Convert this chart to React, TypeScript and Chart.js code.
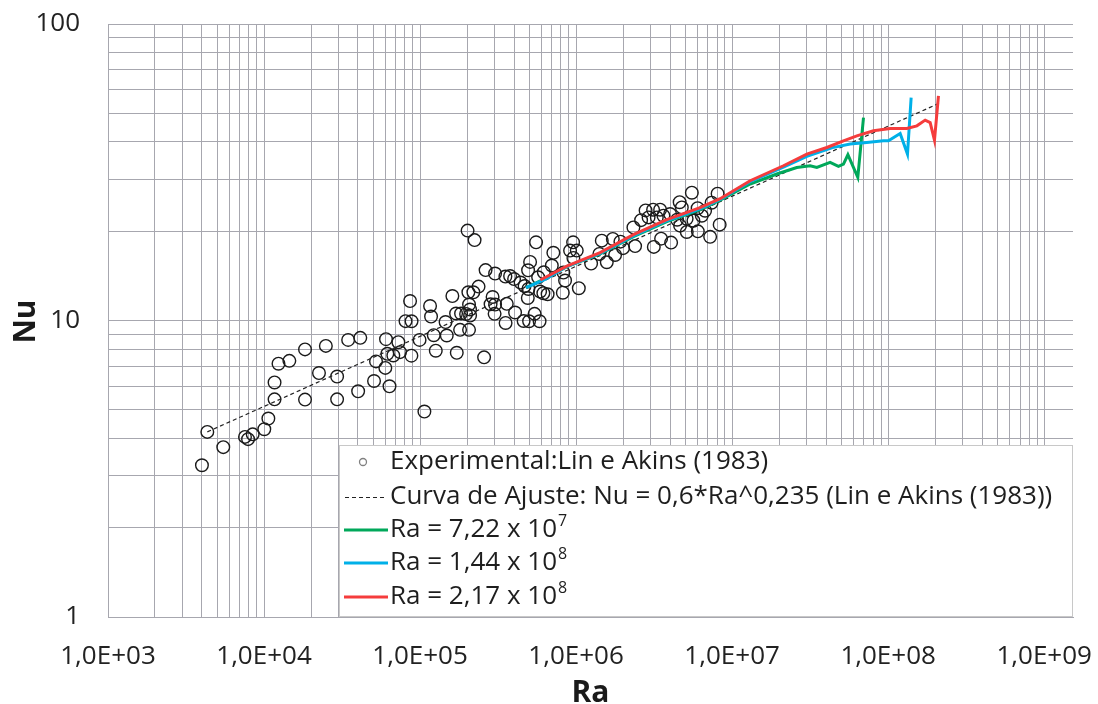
import React, { useEffect, useRef } from 'react';
import { Chart, registerables } from 'chart.js';

Chart.register(...registerables);

const W = 1098;
const H = 704;
const FONT = '"Open Sans", Lato, sans-serif';

// ---------- data ----------
const expRa = [
  4.0e3, 4.33e3, 5.48e3, 7.55e3, 7.9e3, 8.46e3, 1.004e4, 1.066e4, 1.168e4, 1.168e4,
  1.238e4, 1.453e4, 1.831e4, 1.831e4, 2.25e4, 2.49e4, 2.94e4, 2.94e4, 3.46e4, 4.01e4,
  4.14e4, 5.07e4, 5.22e4, 5.99e4, 6.05e4, 6.17e4, 6.37e4, 6.74e4, 7.26e4, 7.44e4,
  8.8e4, 8.63e4, 8.07e4, 8.82e4, 9.93e4, 1.066e5, 1.159e5, 1.176e5, 1.261e5, 1.224e5,
  1.457e5, 1.483e5, 1.611e5, 1.719e5, 1.701e5, 1.831e5, 1.972e5, 2.092e5, 1.805e5, 2.06e5,
  2.016e5, 2.236e5, 2.04e5, 2.196e5, 2.371e5, 2.06e5, 2.092e5, 2.572e5, 2.63e5, 3.026e5,
  3.523e5, 3.775e5, 4.005e5, 4.408e5, 4.677e5, 4.946e5, 4.903e5, 2.916e5, 2.831e5, 3.026e5,
  3.004e5, 3.596e5, 3.533e5, 4.064e5, 4.61e5, 4.997e5, 5.42e5, 5.834e5, 5.072e5, 4.924e5,
  5.54e5, 7.15e5, 9.57e5, 9.15e5, 1.01e6, 9.61e5, 6.99e5, 6.21e5, 5.71e5, 5.88e5,
  6.17e5, 6.57e5, 8.29e5, 8.5e5, 8.22e5, 1.041e6, 1.248e6, 1.461e6, 1.719e6, 1.573e6,
  1.778e6, 1.923e6, 2.001e6, 2.33e6, 2.389e6, 2.61e6, 2.789e6, 3.115e6, 3.455e6, 2.915e6,
  3.291e6, 3.628e6, 3.148e6, 3.506e6, 4.064e6, 4.61e6, 4.76e6, 5.52e6, 4.005e6, 4.441e6,
  5.11e6, 5.65e6, 6.39e6, 6.01e6, 4.64e6, 5.12e6, 6.03e6, 7.23e6, 8.07e6, 7.39e6,
  8.32e6, 1.41e6, 6.71e6,
];
const expNu = [
  3.25, 4.21, 3.74, 4.05, 3.98, 4.13, 4.30, 4.67, 5.42, 6.18,
  7.15, 7.31, 7.99, 5.41, 6.65, 8.21, 6.47, 5.42, 8.60, 5.77,
  8.74, 6.25, 7.28, 6.92, 8.65, 7.72, 6.00, 7.62, 8.45, 7.82,
  7.61, 11.63, 9.95, 9.94, 8.60, 4.93, 11.19, 10.31, 7.91, 8.92,
  9.88, 8.90, 12.09, 7.78, 10.56, 10.56, 10.52, 10.39, 9.30, 9.30,
  20.1, 18.67, 12.45, 12.45, 13.01, 11.32, 10.89, 7.51, 14.79, 14.40,
  14.07, 14.12, 13.80, 13.43, 13.07, 12.77, 11.91, 12.00, 11.34, 11.32,
  10.53, 11.38, 9.81, 10.64, 9.96, 9.94, 10.53, 9.94, 15.76, 14.77,
  18.35, 16.92, 18.35, 17.21, 17.21, 16.26, 15.32, 14.54, 13.99, 12.52,
  12.36, 12.26, 14.51, 13.64, 12.41, 12.85, 15.56, 18.59, 18.84, 15.72,
  16.64, 18.45, 17.54, 20.61, 17.82, 21.80, 23.51, 23.64, 23.64, 22.27,
  22.27, 22.57, 17.71, 18.88, 18.31, 25.06, 24.07, 26.98, 22.87, 21.88,
  22.05, 21.71, 22.57, 23.92, 20.89, 19.89, 19.98, 19.15, 26.77, 24.96,
  21.05, 16.77, 23.46,
];

const fitRa = [4.33e3, 2.15e8];
const fitNu = [4.21, 54.2];

const greenRa = [4.78e5, 6.33e5, 8.72e5, 1.425e6, 2.33e6, 3.815e6, 6.23e6, 8.38e6, 1.305e7, 1.934e7, 2.598e7, 3.162e7, 3.491e7, 4.247e7, 4.802e7, 5.17e7, 5.52e7, 6.39e7, 6.95e7];
const greenNu = [12.91, 13.85, 15.2, 16.77, 19.18, 21.54, 23.64, 25.45, 28.86, 31.19, 32.82, 33.26, 32.82, 34.12, 33.08, 33.7, 36.23, 30.37, 48.36];

const blueRa = [4.78e5, 6.33e5, 8.72e5, 1.425e6, 2.33e6, 3.815e6, 6.23e6, 8.38e6, 1.305e7, 2.132e7, 3.011e7, 4.4e7, 5.71e7, 7.3e7, 9.33e7, 1.004e8, 1.194e8, 1.33e8, 1.404e8];
const blueNu = [12.91, 13.75, 15.2, 16.85, 19.3, 21.7, 23.8, 25.6, 29.4, 32.9, 35.8, 38.3, 39.35, 39.84, 40.37, 40.37, 42.72, 36.42, 56.47];

const redRa = [5.9e5, 8.72e5, 1.425e6, 2.33e6, 3.815e6, 6.23e6, 8.38e6, 1.305e7, 2.132e7, 3.011e7, 4.046e7, 5.17e7, 6.3e7, 8.05e7, 1.03e8, 1.318e8, 1.528e8, 1.727e8, 1.859e8, 1.981e8, 2.101e8];
const redNu = [13.7, 15.26, 16.94, 19.48, 21.88, 24.02, 25.75, 29.61, 33.26, 36.42, 38.32, 40.37, 41.97, 43.62, 44.41, 44.41, 45.35, 47.4, 46.52, 40.59, 57.22];

const xTickLabels = ['1,0E+03', '1,0E+04', '1,0E+05', '1,0E+06', '1,0E+07', '1,0E+08', '1,0E+09'];
const yTickLabels = ['1', '10', '100'];

const legendLabels = [
  'Experimental:Lin e Akins (1983)',
  'Curva de Ajuste: Nu = 0,6*Ra^0,235 (Lin e Akins (1983))',
  'Ra = 7,22 x 10⁷',
  'Ra = 1,44 x 10⁸',
  'Ra = 2,17 x 10⁸',
];
const xTitle = 'Ra';
const yTitle = 'Nu';

const GREEN = '#00A85A';
const BLUE = '#00B0E8';
const RED = '#F53C3C';
const GRID = '#A7A7AF';

const SUP = '⁰¹²³⁴⁵⁶⁷⁸⁹';

function isDecade(v: number) {
  const l = Math.log10(v);
  return Math.abs(l - Math.round(l)) < 1e-9;
}

export default function App() {
  const ref = useRef<HTMLCanvasElement>(null);

  useEffect(() => {
    const canvas = ref.current;
    if (!canvas) return;
    const pts = (xs: number[], ys: number[]) => xs.map((x, i) => ({ x, y: ys[i] }));

    const xTicks: number[] = [];
    for (let k = 3; k <= 8; k++) for (let m = 1; m <= 9; m++) xTicks.push(m * Math.pow(10, k));
    xTicks.push(1e9);
    const yTicks: number[] = [];
    for (let k = 0; k <= 1; k++) for (let m = 1; m <= 9; m++) yTicks.push(m * Math.pow(10, k));
    yTicks.push(100);

    const overlay = {
      id: 'overlay',
      afterDraw(chart: any) {
        const ctx = chart.ctx as CanvasRenderingContext2D;
        const area = chart.chartArea;
        ctx.save();
        // axis titles
        ctx.fillStyle = '#1a1a1a';
        ctx.font = `bold 30px ${FONT}`;
        ctx.textAlign = 'center';
        ctx.textBaseline = 'alphabetic';
        ctx.fillText(xTitle, (area.left + area.right) / 2, 702);
        ctx.save();
        ctx.translate(35, (area.top + area.bottom) / 2 + 1);
        ctx.rotate(-Math.PI / 2);
        ctx.fillText(yTitle, 0, 0);
        ctx.restore();

        // legend box
        const lx = 339, ly = 445, lw = 733, lh = 171;
        ctx.fillStyle = '#ffffff';
        ctx.fillRect(lx, ly, lw, lh);
        ctx.strokeStyle = '#C8C8C8';
        ctx.lineWidth = 1;
        ctx.strokeRect(lx + 0.5, ly + 0.5, lw, lh);

        const rows = [462, 497, 530, 563, 597];
        const tx = 390;
        // markers
        ctx.strokeStyle = '#808080';
        ctx.lineWidth = 1.3;
        ctx.beginPath();
        ctx.arc(363, rows[0], 3.5, 0, Math.PI * 2);
        ctx.stroke();

        ctx.strokeStyle = '#222';
        ctx.lineWidth = 1;
        ctx.setLineDash([4, 3]);
        ctx.beginPath();
        ctx.moveTo(345, rows[1] + 0.5);
        ctx.lineTo(387, rows[1] + 0.5);
        ctx.stroke();
        ctx.setLineDash([]);

        const cols = [GREEN, BLUE, RED];
        cols.forEach((c, i) => {
          ctx.strokeStyle = c;
          ctx.lineWidth = 3;
          ctx.beginPath();
          ctx.moveTo(344, rows[i + 2]);
          ctx.lineTo(388, rows[i + 2]);
          ctx.stroke();
        });

        // legend texts
        ctx.fillStyle = '#1e1e1e';
        ctx.textAlign = 'left';
        ctx.textBaseline = 'middle';
        legendLabels.forEach((label, i) => {
          let base = label;
          let sup = '';
          while (base.length && SUP.indexOf(base[base.length - 1]) >= 0) {
            sup = String(SUP.indexOf(base[base.length - 1])) + sup;
            base = base.slice(0, -1);
          }
          ctx.font = `26px ${FONT}`;
          ctx.fillText(base, tx, rows[i]);
          if (sup) {
            const w = ctx.measureText(base).width;
            ctx.font = `16px ${FONT}`;
            ctx.fillText(sup, tx + w + 1, rows[i] - 9);
          }
        });
        ctx.restore();
      },
    };

    const chart = new Chart(canvas, {
      type: 'scatter',
      data: {
        datasets: [
          {
            label: legendLabels[4],
            data: pts(redRa, redNu),
            showLine: true,
            borderColor: RED,
            backgroundColor: RED,
            borderWidth: 3,
            pointRadius: 0,
            order: 0,
          },
          {
            label: legendLabels[3],
            data: pts(blueRa, blueNu),
            showLine: true,
            borderColor: BLUE,
            backgroundColor: BLUE,
            borderWidth: 3,
            pointRadius: 0,
            order: 1,
          },
          {
            label: legendLabels[2],
            data: pts(greenRa, greenNu),
            showLine: true,
            borderColor: GREEN,
            backgroundColor: GREEN,
            borderWidth: 3,
            pointRadius: 0,
            order: 2,
          },
          {
            label: legendLabels[1],
            data: pts(fitRa, fitNu),
            showLine: true,
            borderColor: '#222',
            borderWidth: 1.2,
            borderDash: [4, 3],
            pointRadius: 0,
            order: 3,
          },
          {
            label: legendLabels[0],
            data: pts(expRa, expNu),
            showLine: false,
            pointRadius: 6.3,
            pointBorderWidth: 1.4,
            pointBorderColor: '#1a1a1a',
            pointBackgroundColor: 'rgba(0,0,0,0)',
            borderColor: '#1a1a1a',
            backgroundColor: 'rgba(0,0,0,0)',
            order: 4,
          },
        ],
      },
      options: {
        responsive: false,
        animation: false,
        devicePixelRatio: 1,
        layout: { padding: { left: 0, top: 24, right: 25, bottom: 0 } },
        plugins: {
          legend: { display: false },
          tooltip: { enabled: false },
          title: { display: false },
        },
        scales: {
          x: {
            type: 'logarithmic',
            min: 1e3,
            max: 1.53e9,
            afterBuildTicks: (scale: any) => {
              scale.ticks = xTicks.map((v) => ({ value: v }));
            },
            afterFit: (scale: any) => {
              scale.height = H - 617;
              scale.paddingLeft = 0;
              scale.paddingRight = 0;
            },
            grid: { color: GRID, lineWidth: 1, drawTicks: false, tickLength: 0 },
            border: { display: true, color: GRID },
            ticks: {
              autoSkip: false,
              maxRotation: 0,
              minRotation: 0,
              padding: 24,
              color: '#222',
              font: { family: FONT, size: 26 },
              callback: (v: any) => {
                const n = Number(v);
                if (!isDecade(n)) return '';
                return xTickLabels[Math.round(Math.log10(n)) - 3] ?? '';
              },
            },
          },
          y: {
            type: 'logarithmic',
            min: 1,
            max: 100,
            afterBuildTicks: (scale: any) => {
              scale.ticks = yTicks.map((v) => ({ value: v }));
            },
            afterFit: (scale: any) => {
              scale.width = 108;
              scale.paddingTop = 0;
              scale.paddingBottom = 0;
            },
            grid: { color: GRID, lineWidth: 1, drawTicks: false, tickLength: 0 },
            border: { display: true, color: GRID },
            ticks: {
              autoSkip: false,
              padding: 28,
              color: '#222',
              font: { family: FONT, size: 26 },
              callback: (v: any) => {
                const n = Number(v);
                if (!isDecade(n)) return '';
                return yTickLabels[Math.round(Math.log10(n))] ?? '';
              },
            },
          },
        },
      },
      plugins: [overlay],
    } as any);

    return () => chart.destroy();
  }, []);

  return (
    <div style={{ position: 'fixed', left: 0, top: 0, width: W, height: H, background: '#fff' }}>
      <canvas ref={ref} width={W} height={H} style={{ display: 'block', width: W, height: H }} />
    </div>
  );
}
